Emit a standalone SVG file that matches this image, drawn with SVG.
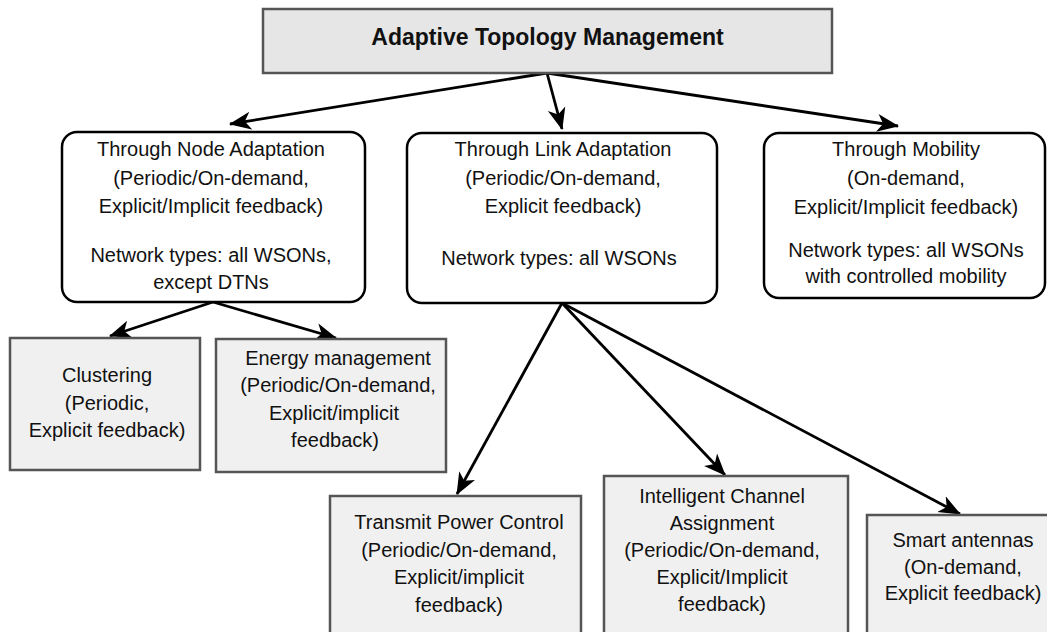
<svg xmlns="http://www.w3.org/2000/svg" width="1047" height="632" viewBox="0 0 1047 632">
  <style>
    text { font-family: "Liberation Sans", Arial, sans-serif; font-size: 20px; fill: #111; text-anchor: middle; }
    .title { font-size: 23px; font-weight: bold; }
    .root { fill: #e6e6e6; stroke: #555; stroke-width: 2.5; }
    .branch { fill: #fff; stroke: #000; stroke-width: 2.5; }
    .leaf { fill: #f0f0f0; stroke: #555; stroke-width: 2.5; }
    .edge { stroke: #000; stroke-width: 2.8; fill: none; marker-end: url(#arrow); }
  </style>
  <defs>
    <marker id="arrow" markerUnits="userSpaceOnUse" markerWidth="24" markerHeight="20" refX="21" refY="9" orient="auto" viewBox="0 0 24 18">
      <path d="M0,0 L22,9 L0,18 L6,9 z" fill="#000"/>
    </marker>
  </defs>
  <rect width="1047" height="632" fill="#fff"/>

  <g id="connectors">
    <line class="edge" x1="547" y1="73" x2="230" y2="124"/>
    <line class="edge" x1="547" y1="73" x2="562" y2="129"/>
    <line class="edge" x1="547" y1="73" x2="898" y2="126"/>
    <line class="edge" x1="213" y1="302" x2="110" y2="336"/>
    <line class="edge" x1="213" y1="302" x2="336" y2="338"/>
    <line class="edge" x1="562" y1="303" x2="457" y2="494"/>
    <line class="edge" x1="562" y1="303" x2="725" y2="475"/>
    <line class="edge" x1="562" y1="303" x2="960" y2="514"/>
  </g>

  <g id="atm">
    <rect class="root" x="263" y="9" width="569" height="64"/>
    <text class="title" x="547.5" y="45">Adaptive Topology Management</text>
  </g>

  <g id="node-adaptation">
    <rect class="branch" x="62" y="132" width="303" height="170" rx="15"/>
    <text x="211" y="156">Through Node Adaptation</text>
    <text x="211" y="185">(Periodic/On-demand,</text>
    <text x="211" y="213">Explicit/Implicit feedback)</text>
    <text x="211" y="262">Network types: all WSONs,</text>
    <text x="211" y="289">except DTNs</text>
  </g>

  <g id="link-adaptation">
    <rect class="branch" x="407" y="133" width="310" height="170" rx="15"/>
    <text x="563" y="156">Through Link Adaptation</text>
    <text x="563" y="185">(Periodic/On-demand,</text>
    <text x="563" y="213">Explicit feedback)</text>
    <text x="559" y="265">Network types: all WSONs</text>
  </g>

  <g id="mobility">
    <rect class="branch" x="764" y="133" width="281" height="165" rx="15"/>
    <text x="906" y="156">Through Mobility</text>
    <text x="906" y="185">(On-demand,</text>
    <text x="906" y="214">Explicit/Implicit feedback)</text>
    <text x="906" y="257">Network types: all WSONs</text>
    <text x="906" y="283">with controlled mobility</text>
  </g>

  <g id="clustering">
    <rect class="leaf" x="10" y="338" width="190" height="132"/>
    <text x="107" y="382">Clustering</text>
    <text x="107" y="410">(Periodic,</text>
    <text x="107" y="437">Explicit feedback)</text>
  </g>

  <g id="energy">
    <rect class="leaf" x="216" y="339" width="230" height="133"/>
    <text x="338" y="365">Energy management</text>
    <text x="338" y="392">(Periodic/On-demand,</text>
    <text x="334" y="420">Explicit/implicit</text>
    <text x="335" y="447">feedback)</text>
  </g>

  <g id="tpc">
    <rect class="leaf" x="330" y="496" width="251" height="150"/>
    <text x="459" y="529">Transmit Power Control</text>
    <text x="459" y="557">(Periodic/On-demand,</text>
    <text x="459" y="584">Explicit/implicit</text>
    <text x="459" y="612">feedback)</text>
  </g>

  <g id="channel">
    <rect class="leaf" x="604" y="476" width="244" height="170"/>
    <text x="722" y="503">Intelligent Channel</text>
    <text x="722" y="530">Assignment</text>
    <text x="722" y="557">(Periodic/On-demand,</text>
    <text x="722" y="584">Explicit/Implicit</text>
    <text x="722" y="611">feedback)</text>
  </g>

  <g id="antennas">
    <rect class="leaf" x="867" y="515" width="193" height="130"/>
    <text x="963" y="547">Smart antennas</text>
    <text x="963" y="574">(On-demand,</text>
    <text x="963" y="600">Explicit feedback)</text>
  </g>
</svg>
